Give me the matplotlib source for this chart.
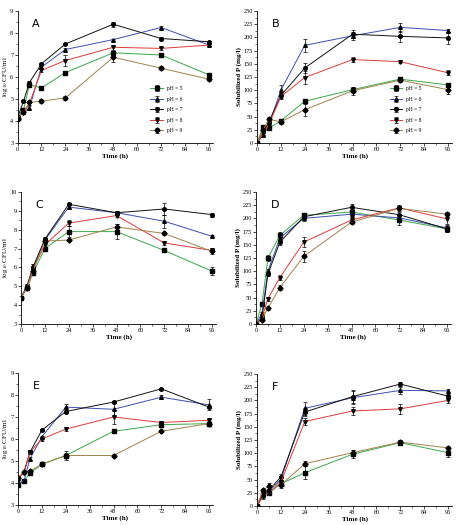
import matplotlib
matplotlib.use("Agg")
import matplotlib.pyplot as plt
from matplotlib.ticker import MultipleLocator, AutoMinorLocator

plt.rcParams["mathtext.fontset"] = "stix"

time_h = [0, 3, 6, 12, 24, 48, 72, 96]
series_labels = ["pH = 5", "pH = 6", "pH = 7", "pH = 8", "pH = 9"]
colors = ["#3aa84a", "#3b4fb0", "#111111", "#e03a3a", "#a0824a"]
markers = ["s", "^", "o", "v", "D"]

# Panel A: log10 CFU/ml
A_vals = [
    [4.15, 4.5, 5.65, 5.5, 6.2, 7.1, 7.0, 6.1],
    [4.2, 4.4, 4.6, 6.45, 7.25, 7.7, 8.25, 7.45],
    [4.15, 4.9, 5.75, 6.6, 7.5, 8.4, 7.75, 7.6],
    [4.2, 4.35, 4.8, 6.3, 6.75, 7.35, 7.3, 7.45],
    [4.1, 4.4, 4.85, 4.9, 5.05, 6.9, 6.4, 5.9],
]
A_err = [
    [0.05, 0.05, 0.08, 0.08, 0.08, 0.1, 0.08, 0.1],
    [0.05, 0.05, 0.08, 0.05, 0.05, 0.05, 0.05, 0.05],
    [0.05, 0.05, 0.05, 0.05, 0.05, 0.12, 0.05, 0.05],
    [0.05, 0.05, 0.05, 0.08, 0.25, 0.1, 0.08, 0.05],
    [0.05, 0.05, 0.05, 0.08, 0.1, 0.2, 0.08, 0.08],
]
# Panel B: solubilized P (mg/l)
B_vals = [
    [0, 30, 28, 42, 79, 101, 121, 110],
    [0, 15, 35, 100, 185, 203, 219, 213],
    [0, 20, 40, 90, 142, 206, 202, 199],
    [0, 18, 35, 88, 124, 158, 154, 133],
    [0, 25, 45, 40, 63, 99, 119, 101],
]
B_err = [
    [1, 3, 3, 4, 5, 5, 4, 3],
    [1, 4, 4, 10, 12, 8, 8, 3],
    [1, 4, 5, 5, 10, 8, 10, 12],
    [1, 3, 4, 5, 12, 4, 2, 5],
    [1, 3, 5, 4, 12, 8, 4, 8],
]
# Panel C: log10 CFU/ml
C_vals = [
    [4.4, 4.9, 5.7, 7.0, 7.9, 7.9, 6.9, 5.8],
    [4.4, 5.0, 6.0, 7.45, 9.2, 8.9, 8.45, 7.65],
    [4.4, 5.0, 6.0, 7.5, 9.35, 8.9, 9.1, 8.8],
    [4.4, 4.9, 5.9, 7.2, 8.35, 8.75, 7.3, 6.9],
    [4.4, 4.9, 5.8, 7.4, 7.45, 8.15, 7.8, 6.85],
]
C_err = [
    [0.08, 0.1, 0.1, 0.08, 0.3, 0.4, 0.08, 0.2],
    [0.08, 0.1, 0.2, 0.1, 0.1, 0.1, 0.35, 0.05],
    [0.08, 0.1, 0.2, 0.1, 0.05, 0.08, 0.3, 0.1],
    [0.08, 0.1, 0.1, 0.1, 0.15, 0.1, 0.1, 0.1],
    [0.08, 0.1, 0.1, 0.1, 0.05, 0.15, 0.1, 0.15],
]
# Panel D: solubilized P (mg/l)
D_vals = [
    [0, 38, 125, 168, 206, 212, 197, 180],
    [0, 20, 100, 163, 200, 208, 201, 182],
    [0, 12, 95, 155, 203, 221, 207, 180],
    [0, 12, 48, 88, 155, 197, 220, 199],
    [0, 8, 30, 69, 128, 193, 219, 208],
]
D_err = [
    [1, 3, 6, 6, 4, 5, 10, 6],
    [1, 3, 5, 6, 4, 5, 8, 6],
    [1, 3, 5, 5, 4, 6, 5, 6],
    [1, 3, 4, 5, 10, 5, 5, 10],
    [1, 3, 3, 4, 10, 4, 5, 4],
]
# Panel E: log10 CFU/ml
E_vals = [
    [3.9, 4.1, 4.45, 4.85, 5.25, 6.35, 6.65, 6.7],
    [4.0, 4.1, 5.1, 6.1, 7.45, 7.35, 7.9, 7.55],
    [4.2, 4.5, 5.4, 6.4, 7.25, 7.68, 8.28, 7.45],
    [4.2, 4.45, 5.4, 6.0, 6.45, 7.0, 6.75, 6.85],
    [4.25, 4.5, 4.55, 4.85, 5.25, 5.25, 6.35, 6.7],
]
E_err = [
    [0.05, 0.05, 0.05, 0.08, 0.2, 0.05, 0.08, 0.05],
    [0.05, 0.05, 0.1, 0.05, 0.15, 0.3, 0.08, 0.25],
    [0.05, 0.05, 0.1, 0.05, 0.05, 0.05, 0.03, 0.05],
    [0.05, 0.05, 0.1, 0.08, 0.1, 0.3, 0.08, 0.05],
    [0.05, 0.05, 0.05, 0.08, 0.1, 0.05, 0.05, 0.05],
]
# Panel F: solubilized P (mg/l)
F_vals = [
    [0, 22, 25, 42, 63, 98, 120, 101],
    [0, 20, 28, 50, 185, 205, 219, 218],
    [0, 25, 30, 55, 178, 207, 231, 208],
    [0, 18, 25, 45, 160, 180, 184, 200],
    [0, 30, 38, 40, 80, 101, 121, 110],
]
F_err = [
    [1, 4, 5, 5, 12, 8, 5, 8],
    [1, 4, 5, 6, 12, 12, 6, 4],
    [1, 4, 8, 6, 8, 12, 3, 4],
    [1, 4, 5, 5, 6, 8, 10, 4],
    [1, 3, 5, 5, 5, 6, 4, 3],
]

W, H = 458, 525
fig = plt.figure(figsize=(W / 100, H / 100), dpi=100)

serif = "Liberation Serif"

def rect(left, top, right, bottom):
    return [left / W, 1 - bottom / H, (right - left) / W, (bottom - top) / H]

panels = [
    ("A", A_vals, A_err, rect(17.5, 11, 213, 143), (3, 9), 1, "cfu", True),
    ("B", B_vals, B_err, rect(257, 11, 452, 143), (0, 250), 25, "p", True),
    ("C", C_vals, C_err, rect(21, 192, 216, 324), (3, 10), 1, "cfu", False),
    ("D", D_vals, D_err, rect(256, 192, 451, 324), (0, 250), 25, "p", False),
    ("E", E_vals, E_err, rect(18, 373, 213, 505), (3, 9), 1, "cfu", False),
    ("F", F_vals, F_err, rect(257, 374, 452, 506), (0, 250), 25, "p", False),
]

for letter, vals, errs, r, ylim, ystep, kind, show_leg in panels:
    ax = fig.add_axes(r)
    for i in range(5):
        ax.errorbar(time_h, vals[i], yerr=errs[i], color=colors[i], lw=0.7,
                    marker=markers[i], ms=2.6, mfc="black", mec="black",
                    ecolor="black", elinewidth=0.5, capsize=1.2, capthick=0.5,
                    label=series_labels[i])
    ax.set_xlim(0, 98)
    ax.set_ylim(*ylim)
    ax.xaxis.set_major_locator(MultipleLocator(12))
    ax.xaxis.set_minor_locator(MultipleLocator(6))
    ax.yaxis.set_major_locator(MultipleLocator(ystep))
    ax.yaxis.set_minor_locator(AutoMinorLocator(2))
    for s in ["top", "right"]:
        ax.spines[s].set_visible(False)
    for s in ["left", "bottom"]:
        ax.spines[s].set_linewidth(0.6)
    ax.tick_params(which="major", length=2, width=0.5, labelsize=4.5, pad=1)
    ax.tick_params(which="minor", length=1.2, width=0.4)
    for lab in ax.get_xticklabels() + ax.get_yticklabels():
        lab.set_fontfamily(serif)
    ax.set_xlabel("Time (h)", fontsize=5, fontfamily=serif, fontweight="bold", labelpad=1)
    if kind == "cfu":
        ax.set_ylabel(r"log$_{10}$ CFU/ml", fontsize=5, fontfamily=serif, labelpad=0.5)
    else:
        ax.set_ylabel("Solubilized P (mg/l)", fontsize=5, fontfamily=serif,
                      fontweight="bold", labelpad=1)
    ax.text(0.075, 0.9, letter, transform=ax.transAxes, fontsize=8,
            fontfamily="DejaVu Sans", va="center")
    if show_leg:
        leg = ax.legend(loc="upper left", bbox_to_anchor=(0.66, 0.46),
                        frameon=False, fontsize=4, handlelength=2.2,
                        labelspacing=1.0, borderpad=0.2, handletextpad=0.8)
        for t in leg.get_texts():
            t.set_fontfamily(serif)

fig.savefig("out.png", dpi=100)
